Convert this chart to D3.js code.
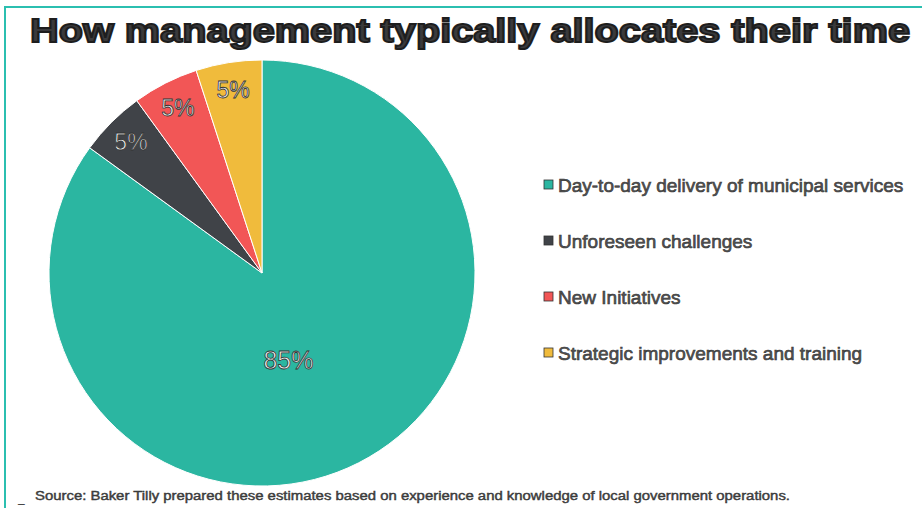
<!DOCTYPE html>
<html><head><meta charset="utf-8">
<script src="https://cdn.jsdelivr.net/npm/d3@7/dist/d3.min.js"></script>
<style>body{margin:0;background:#fff}svg{display:block}</style>
</head><body>
<script>
const categories = ["Day-to-day delivery of municipal services","Unforeseen challenges","New Initiatives","Strategic improvements and training"];
const values = [85, 5, 5, 5];
const labels = ["85%","5%","5%","5%"];
const colors = ["#2bb6a1","#404348","#f25656","#f0bb3c"];
const title = "How management typically allocates their time";
const source = "Source: Baker Tilly prepared these estimates based on experience and knowledge of local government operations.";

const W=922,H=508;
const svg=d3.select("body").append("svg").attr("width",W).attr("height",H);
svg.append("rect").attr("x",5).attr("y",7).attr("width",930).attr("height",520)
  .attr("fill","#fff").attr("stroke","#2bbfb0").attr("stroke-width",2);

svg.append("text").attr("x",470).attr("y",42).attr("text-anchor","middle")
  .attr("font-family","Liberation Sans, Arial, sans-serif").attr("font-weight","bold")
  .attr("font-size",34).attr("textLength",880).attr("lengthAdjust","spacingAndGlyphs")
  .attr("fill","#3a3a3c").attr("stroke","#1e1e1e").attr("stroke-width",2).text(title);

const cx=262, cy=273, r=213;
const pie=d3.pie().sort(null).value(d=>d)(values);
const arc=d3.arc().innerRadius(0).outerRadius(r);
const g=svg.append("g").attr("transform",`translate(${cx},${cy})`);
g.selectAll("path").data(pie).join("path").attr("d",arc)
  .attr("fill",(d,i)=>colors[i]).attr("stroke","#fff").attr("stroke-width",1);
const labArc=d3.arc().innerRadius(r*0.87).outerRadius(r*0.87);
const bigArc=d3.arc().innerRadius(r*0.46).outerRadius(r*0.46);
g.selectAll("text.lab").data(pie).join("text").attr("class","lab")
  .attr("transform",(d,i)=>{const c=(i===0?bigArc:labArc).centroid(d);return `translate(${i===0?c[0]-18:c[0]},${c[1]})`;})
  .attr("text-anchor","middle").attr("dy","0.35em")
  .attr("font-family","Liberation Sans, Arial, sans-serif").attr("font-size",(d,i)=>i===0?25:23)
  .attr("fill","#f4f4f4").attr("stroke","#333").attr("stroke-width",0.8)
  .text((d,i)=>labels[i]);

const lg=svg.append("g");
const ly=d3.scalePoint().domain(categories).range([185,353]);
categories.forEach((c,i)=>{
  lg.append("rect").attr("x",544).attr("y",ly(c)-5).attr("width",9).attr("height",9)
    .attr("fill",colors[i]).attr("stroke","#333").attr("stroke-width",0.8);
  lg.append("text").attr("x",558).attr("y",ly(c)).attr("dy","0.35em")
    .attr("font-family","Liberation Sans, Arial, sans-serif").attr("font-size",19)
    .attr("fill","#555").attr("stroke","#333").attr("stroke-width",0.6).text(c);
});

svg.append("text").attr("x",18).attr("y",502).attr("font-family","Liberation Sans, Arial, sans-serif")
  .attr("font-size",12).attr("fill","#333").text("_");
svg.append("text").attr("x",35).attr("y",500).attr("font-family","Liberation Sans, Arial, sans-serif")
  .attr("font-size",12).attr("textLength",755).attr("lengthAdjust","spacingAndGlyphs")
  .attr("fill","#444").attr("stroke","#333").attr("stroke-width",0.4).text(source);
</script>
</body></html>
